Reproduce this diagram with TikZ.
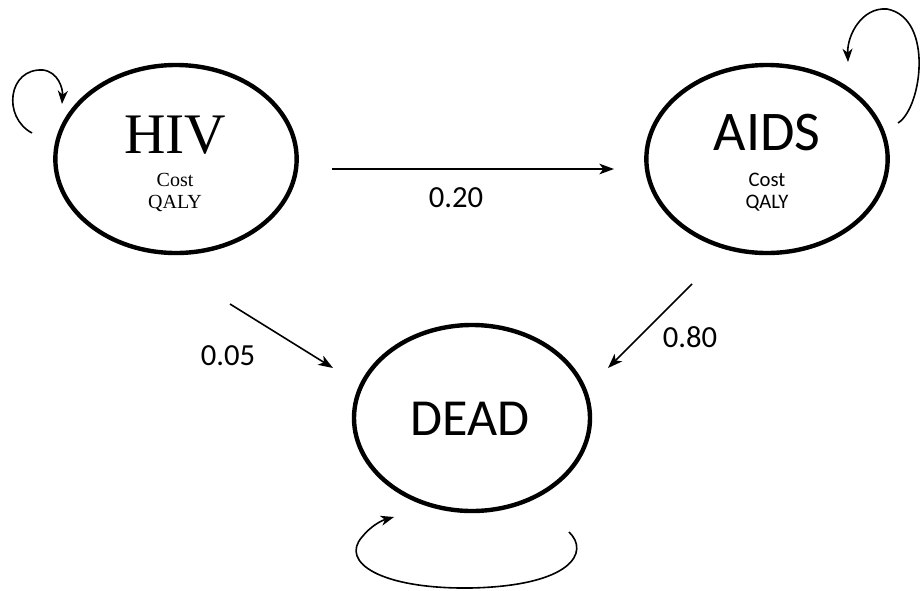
\documentclass[tikz,border=0pt]{standalone}
\usepackage{fontspec}
\setmainfont{Carlito}
\newfontfamily\serifx{Liberation Serif}
\usetikzlibrary{arrows.meta,shapes.geometric}
\begin{document}
\begin{tikzpicture}[x=0.75pt,y=-0.75pt,
  state/.style={draw=black,line width=3.3pt,ellipse,inner sep=0pt,minimum width=181pt,minimum height=141pt},
  txt/.style={inner sep=0pt,anchor=center},
  conn/.style={line width=1.2pt,-{Stealth[length=11pt,width=8pt,inset=3pt]}},
  loopa/.style={line width=1.2pt,-{Stealth[length=10pt,width=7.5pt,inset=3pt]}}]
\useasboundingbox (0,0) rectangle (923,590);
% states
\node[state] (hiv) at (176,159) {};
\node[state] (aids) at (767,159) {};
\node[state,minimum width=177pt,minimum height=139.5pt] (dead) at (472,418) {};
% texts
\node[txt,font=\serifx\fontsize{43}{43}\selectfont] (hivt) at (175,135) {HIV};
\node[txt,font=\serifx\fontsize{15}{15}\selectfont] (hivc) at (175,180) {Cost};
\node[txt,font=\serifx\fontsize{15}{15}\selectfont] (hivq) at (175,203) {QALY};
\node[txt,font=\fontsize{42}{42}\selectfont] (aidst) at (767,133) {AIDS};
\node[txt,font=\fontsize{15.5}{15.5}\selectfont] (aidsc) at (767,180) {Cost};
\node[txt,font=\fontsize{15.5}{15.5}\selectfont] (aidsq) at (767,203) {QALY};
\node[txt,font=\fontsize{39}{39}\selectfont] (deadt) at (470,419) {DEAD};
% labels
\node[txt,font=\fontsize{23}{23}\selectfont] (l20) at (456,198) {0.20};
\node[txt,font=\fontsize{23}{23}\selectfont] (l05) at (228,356) {0.05};
\node[txt,font=\fontsize{23}{23}\selectfont] (l80) at (690,337) {0.80};
% connector endpoints
\coordinate (h1) at (332,169);
\coordinate (a1) at (614,169);
\coordinate (h2) at (230,304);
\coordinate (d1) at (333,368);
\coordinate (a2) at (692,284);
\coordinate (d2) at (608,368);
\draw[conn] (h1) -- (a1);
\draw[conn] (h2) -- (d1);
\draw[conn] (a2) -- (d2);
% self loops
\coordinate (hl0) at (32,133);
\coordinate (hl1) at (62,104);
\draw[loopa] (hl0) .. controls (2,117) and (8,68) .. (43,70) .. controls (58,72) and (63,88) .. (hl1);
\coordinate (al0) at (898,123);
\coordinate (al1) at (848,62);
\draw[loopa] (al0) .. controls (922,108) and (934,18) .. (887,9) .. controls (862,7) and (847,35) .. (al1);
\coordinate (dl0) at (569,532);
\coordinate (dl1) at (394,517);
\draw[loopa] (dl0) .. controls (590,552) and (572,586) .. (470,588) .. controls (380,589) and (340,562) .. (362,537) .. controls (370,527) and (380,521) .. (dl1);
\end{tikzpicture}
\end{document}
